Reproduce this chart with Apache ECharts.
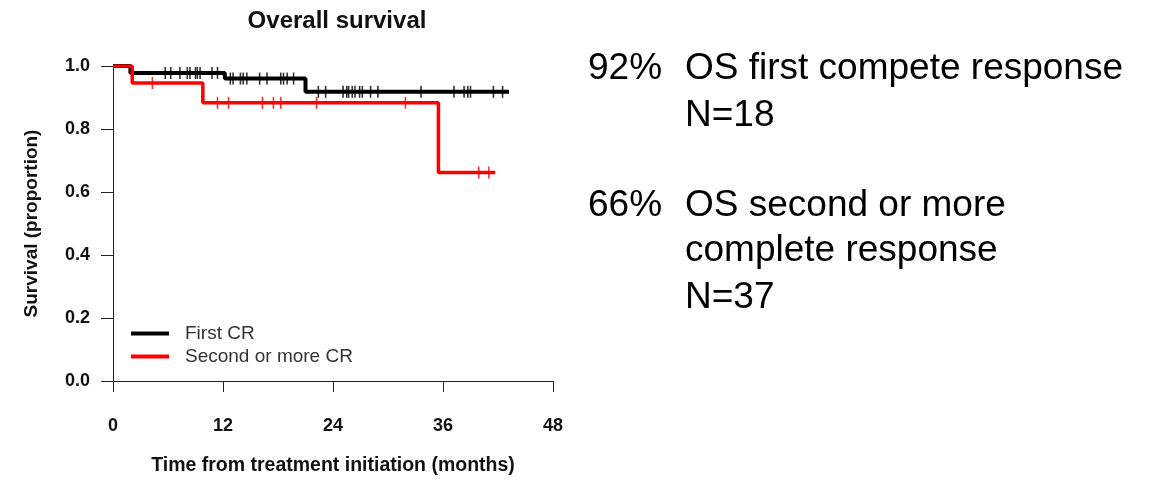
<!DOCTYPE html>
<html>
<head>
<meta charset="utf-8">
<script src="https://cdn.jsdelivr.net/npm/echarts@6/dist/echarts.min.js"></script>
<style>
  html, body { margin: 0; padding: 0; background: #fff; }
  #main { width: 1155px; height: 481px; }
</style>
</head>
<body>
<div id="main"></div>
<script>
// Kaplan-Meier steps (time in months, survival proportion)
var firstTime = [0, 1.9, 12.2, 21.0, 43.2];
var firstSurv = [1.0, 0.978, 0.96, 0.918, 0.918];
var secondTime = [0, 2.1, 9.8, 35.5, 41.7];
var secondSurv = [1.0, 0.946, 0.883, 0.662, 0.662];

// censored observations (months)
var firstCensor = [5.7, 6.3, 7.3, 8.1, 8.4, 9.0, 9.2, 9.5, 10.8, 11.4,
  12.8, 13.1, 13.9, 14.2, 14.6, 16.0, 16.8, 18.3, 18.6, 19.0, 19.7,
  22.4, 23.2, 25.1, 25.5, 25.7, 26.1, 26.4, 26.9, 27.2, 28.1, 28.9,
  33.6, 37.2, 38.3, 38.7, 39.0, 41.5, 42.5];
var secondCensor = [4.3, 11.4, 12.6, 16.3, 17.5, 18.3, 22.2, 31.9, 39.9, 41.0];

var xTicks = [0, 12, 24, 36, 48];
var seriesNames = ['First CR', 'Second or more CR'];

var FONT = '"Liberation Sans", Arial, sans-serif';

function steps(t, s) {
  var out = [];
  for (var i = 0; i < t.length; i++) out.push([t[i], s[i]]);
  return out;
}
function survAt(t, s, x) {
  var v = s[0];
  for (var i = 0; i < t.length; i++) {
    if (t[i] <= x) v = s[i];
  }
  return v;
}
function censorPts(c, t, s) {
  return c.map(function (x) { return [x, survAt(t, s, x)]; });
}

var myChart = echarts.init(document.getElementById('main'));
var option = {
  backgroundColor: '#fff',
  animation: false,
  title: {
    text: 'Overall survival',
    left: 332,
    top: 4,
    textAlign: 'center',
    textStyle: { fontFamily: FONT, fontSize: 24, fontWeight: 'bold', color: '#111' }
  },
  legend: {
    data: seriesNames,
    orient: 'vertical',
    left: 126,
    top: 318,
    itemGap: 2,
    itemWidth: 38,
    itemHeight: 4,
    icon: 'rect',
    textStyle: { fontFamily: FONT, fontSize: 19, color: '#333', lineHeight: 21, padding: [0, 0, 0, 11] }
  },
  grid: { left: 113, right: 602, top: 66, bottom: 98 },
  xAxis: {
    type: 'value',
    min: 0,
    max: 48,
    interval: 12,
    name: 'Time from treatment initiation (months)',
    nameLocation: 'middle',
    nameGap: 75,
    nameTextStyle: { fontFamily: FONT, fontSize: 19.5, fontWeight: 'bold', color: '#111' },
    splitLine: { show: false },
    axisLine: { show: true, lineStyle: { color: '#222', width: 1 } },
    axisTick: { show: true, length: 11, lineStyle: { color: '#222' } },
    axisLabel: {
      margin: 36,
      fontFamily: FONT, fontSize: 18, fontWeight: 'bold', color: '#111',
      customValues: xTicks
    }
  },
  yAxis: {
    type: 'value',
    min: 0,
    max: 1,
    interval: 0.2,
    name: 'Survival (proportion)',
    nameLocation: 'middle',
    nameRotate: 90,
    nameGap: 72,
    nameTextStyle: { fontFamily: FONT, fontSize: 19, fontWeight: 'bold', color: '#111' },
    splitLine: { show: false },
    axisLine: { show: true, lineStyle: { color: '#222', width: 1 } },
    axisTick: { show: true, length: 12, lineStyle: { color: '#222' } },
    axisLabel: {
      margin: 23,
      fontFamily: FONT, fontSize: 18, fontWeight: 'bold', color: '#111',
      formatter: function (v) { return v.toFixed(1); }
    }
  },
  series: [
    {
      name: seriesNames[0],
      type: 'line',
      step: 'end',
      symbol: 'none',
      data: steps(firstTime, firstSurv),
      lineStyle: { color: '#000', width: 4 },
      itemStyle: { color: '#000' },
      z: 2
    },
    {
      name: seriesNames[1],
      type: 'line',
      step: 'end',
      symbol: 'none',
      data: steps(secondTime, secondSurv),
      lineStyle: { color: '#ff0000', width: 3.5 },
      itemStyle: { color: '#ff0000' },
      z: 3
    },
    {
      name: 'first censor',
      type: 'scatter',
      symbol: 'rect',
      symbolSize: [1.6, 12],
      data: censorPts(firstCensor, firstTime, firstSurv),
      itemStyle: { color: '#000' },
      silent: true,
      z: 4
    },
    {
      name: 'second censor',
      type: 'scatter',
      symbol: 'rect',
      symbolSize: [1.6, 12],
      data: censorPts(secondCensor, secondTime, secondSurv),
      itemStyle: { color: '#ff0000' },
      silent: true,
      z: 4
    }
  ],
  graphic: [
    { type: 'text', left: 588, top: 50, style: { text: '92%', font: '37px ' + FONT, fill: '#000' } },
    { type: 'text', left: 685, top: 50, style: { text: 'OS first compete response', font: '37px ' + FONT, fill: '#000' } },
    { type: 'text', left: 685, top: 97, style: { text: 'N=18', font: '37px ' + FONT, fill: '#000' } },
    { type: 'text', left: 588, top: 187, style: { text: '66%', font: '37px ' + FONT, fill: '#000' } },
    { type: 'text', left: 685, top: 187, style: { text: 'OS second or more', font: '37px ' + FONT, fill: '#000' } },
    { type: 'text', left: 685, top: 232, style: { text: 'complete response', font: '37px ' + FONT, fill: '#000' } },
    { type: 'text', left: 685, top: 279, style: { text: 'N=37', font: '37px ' + FONT, fill: '#000' } }
  ]
};
myChart.setOption(option);
</script>
</body>
</html>
